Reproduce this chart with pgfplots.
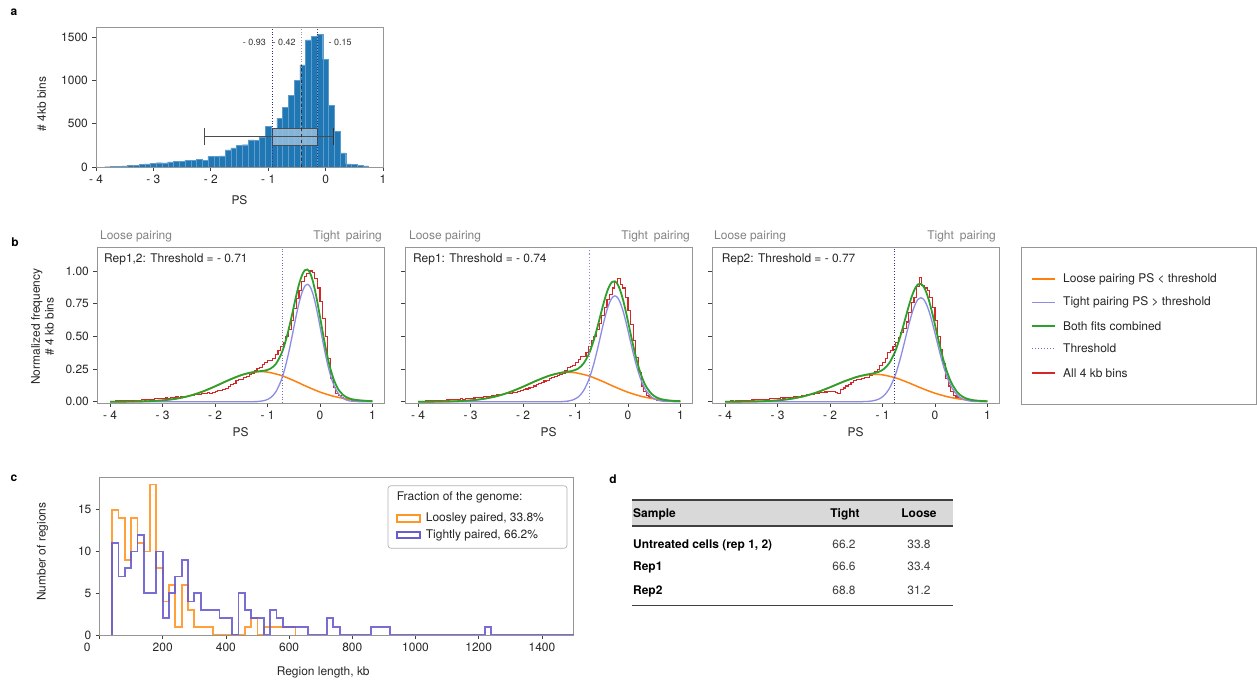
\documentclass[border=0pt]{standalone}
\usepackage{fontspec}
\setmainfont{TeX Gyre Heros}
\usepackage{pgfplots}
\pgfplotsset{compat=1.18}
\definecolor{barblue}{RGB}{31,119,180}
\definecolor{baredge}{RGB}{95,155,205}
\definecolor{boxfill}{RGB}{150,192,224}
\definecolor{myorange}{RGB}{255,127,14}
\definecolor{mylav}{RGB}{140,140,228}
\definecolor{mygreen}{RGB}{44,160,44}
\definecolor{myred}{RGB}{214,39,40}
\definecolor{cor}{RGB}{255,150,40}
\definecolor{cblue}{RGB}{105,92,208}
\definecolor{cbase}{RGB}{60,50,120}
\definecolor{navy}{RGB}{50,50,130}
\definecolor{thrcol}{RGB}{110,110,190}
\definecolor{txtgray}{RGB}{130,130,130}
\definecolor{axgray}{RGB}{150,150,150}
\pgfplotsset{
  base/.style={scale only axis, axis line style={axgray, line width=0.6bp},
    tick align=outside, major tick length=4bp, tick style={black!75, line width=0.6bp},
    xtick pos=left, ytick pos=left, scaled ticks=false,
    tick label style={font=\fontsize{12}{14}\selectfont, text=black!85},
    label style={font=\fontsize{12}{14}\selectfont, text=black!85}},
  bstyle/.style={base, width=287bp, height=156bp, xmin=-4.25, xmax=1.22, ymin=-0.01, ymax=1.184,
    xtick={-4,-3,-2,-1,0,1}, xticklabels={- 4,- 3,- 2,- 1,0,1}, ytick={0,0.25,0.5,0.75,1},
    xlabel={PS}, xlabel style={at={(axis description cs:0.5,-0.186)}, anchor=center}},
}
\begin{document}
\fontsize{12}{14}\selectfont
\begin{tikzpicture}
\path[use as bounding box] (0,0) rectangle (1257bp,683bp);

% ---------------- panel a ----------------
\begin{axis}[base, at={(96bp,516bp)}, anchor=south west, width=287bp, height=140bp,
  xmin=-4, xmax=1, ymin=0, ymax=1619,
  xtick={-4,-3,-2,-1,0,1}, xticklabels={- 4,- 3,- 2,- 1,0,1},
  ytick={0,500,1000,1500}, yticklabels={0,500,1000,1500},
  xlabel={PS}, ylabel={\# 4kb bins},
  xlabel style={at={(axis description cs:0.5,-0.236)}, anchor=center},
  ylabel style={at={(axis description cs:-0.189,0.45)}, anchor=center}]
\addplot[ybar interval, fill=barblue, draw=baredge, line width=0.3bp] coordinates {
(-3.85,3) (-3.75,5) (-3.65,8) (-3.55,12) (-3.45,16) (-3.35,22) (-3.25,28) (-3.15,35) (-3.05,45) (-2.95,50)
(-2.85,48) (-2.75,60) (-2.65,62) (-2.55,65) (-2.45,80) (-2.35,78) (-2.25,88) (-2.15,80) (-2.05,122) (-1.95,120)
(-1.85,130) (-1.75,198) (-1.65,222) (-1.55,250) (-1.45,258) (-1.35,315) (-1.25,310) (-1.15,340) (-1.05,470) (-0.95,445)
(-0.85,565) (-0.75,690) (-0.65,827) (-0.55,1000) (-0.45,1180) (-0.35,1470) (-0.25,1510) (-0.15,1535) (-0.05,1245) (0.05,710)
(0.15,412) (0.25,162) (0.35,35) (0.45,30) (0.55,18) (0.65,12) (0.75,0)};
\addplot[fill=boxfill, fill opacity=0.85, draw=black!70, line width=0.8bp] coordinates {(-0.93,250) (-0.15,250) (-0.15,450) (-0.93,450) (-0.93,250)};
\addplot[black!70, line width=0.8bp] coordinates {(-2.12,350) (0.13,350)};
\addplot[black!70, line width=0.8bp] coordinates {(-2.12,250) (-2.12,450)};
\addplot[black!80, line width=1bp] coordinates {(0.13,250) (0.13,450)};
\addplot[navy, dotted, line width=0.7bp] coordinates {(-0.93,0) (-0.93,1619)};
\addplot[black!40, dotted, line width=0.7bp] coordinates {(-0.42,0) (-0.42,1619)};
\addplot[black!80, dashed, line width=0.9bp] coordinates {(-0.42,0) (-0.42,1180)};
\addplot[navy, dotted, line width=0.7bp] coordinates {(-0.15,0) (-0.15,1619)};
\node[anchor=east, font=\fontsize{9}{10}\selectfont, text=black!80] at (axis cs:-0.97,1440) {- 0.93};
\node[anchor=east, font=\fontsize{9}{10}\selectfont, text=black!80] at (axis cs:-0.45,1440) {- 0.42};
\node[anchor=west, font=\fontsize{9}{10}\selectfont, text=black!80] at (axis cs:-0.02,1440) {- 0.15};
\draw[black!85, line width=0.8bp] (rel axis cs:0,0) -- (rel axis cs:1,0);
\end{axis}

% ---------------- panel b1 ----------------
\begin{axis}[bstyle, at={(97bp,280bp)}, anchor=south west,
  yticklabels={0.00,0.25,0.50,0.75,1.00},
  ylabel={Normalized frequency\\\# 4 kb bins},
  ylabel style={align=center, at={(axis description cs:-0.19,0.49)}, anchor=center}]
\addplot[myred, const plot, line width=1.1bp] coordinates {
(-4.00,0.004) (-3.95,0.003) (-3.90,0.005) (-3.85,0.006) (-3.80,0.005) (-3.75,0.008) (-3.70,0.007) (-3.65,0.009) (-3.60,0.008) (-3.55,0.011)
(-3.50,0.010) (-3.45,0.012) (-3.40,0.014) (-3.35,0.013) (-3.30,0.016) (-3.25,0.018) (-3.20,0.017) (-3.15,0.021) (-3.10,0.023) (-3.05,0.022)
(-3.00,0.026) (-2.95,0.028) (-2.90,0.027) (-2.85,0.032) (-2.80,0.034) (-2.75,0.036) (-2.70,0.035) (-2.65,0.040) (-2.60,0.043) (-2.55,0.041)
(-2.50,0.046) (-2.45,0.050) (-2.40,0.054) (-2.35,0.058) (-2.30,0.057) (-2.25,0.062) (-2.20,0.064) (-2.15,0.068) (-2.10,0.066) (-2.05,0.072)
(-2.00,0.078) (-1.95,0.083) (-1.90,0.088) (-1.85,0.092) (-1.80,0.100) (-1.75,0.118) (-1.70,0.135) (-1.65,0.142) (-1.60,0.160) (-1.55,0.168)
(-1.50,0.172) (-1.45,0.185) (-1.40,0.195) (-1.35,0.205) (-1.30,0.215) (-1.25,0.240) (-1.20,0.255) (-1.15,0.262) (-1.10,0.285) (-1.05,0.300)
(-1.00,0.318) (-0.95,0.315) (-0.90,0.330) (-0.85,0.360) (-0.80,0.395) (-0.75,0.420) (-0.70,0.450) (-0.65,0.500) (-0.60,0.550) (-0.55,0.620)
(-0.50,0.710) (-0.45,0.790) (-0.40,0.850) (-0.35,0.920) (-0.30,0.960) (-0.25,0.980) (-0.20,1.000) (-0.15,0.990) (-0.10,0.940) (-0.05,0.870)
(0.00,0.770) (0.05,0.640) (0.10,0.500) (0.15,0.330) (0.20,0.180) (0.25,0.110) (0.30,0.065) (0.35,0.045) (0.40,0.034) (0.45,0.025)
(0.50,0.019) (0.55,0.014) (0.60,0.010) (0.65,0.008) (0.70,0.006) (0.75,0.005) (0.80,0.003) (0.85,0.002) (0.90,0.002) (0.95,0.001) (1.00,0.001)};
\addplot[myorange, smooth, line width=1.5bp] coordinates {
(-4,0.0002) (-3.75,0.0005) (-3.5,0.0016) (-3.25,0.0042) (-3.0,0.0103) (-2.75,0.0223) (-2.5,0.0434) (-2.25,0.0754) (-2.0,0.1174) (-1.75,0.1634)
(-1.5,0.2036) (-1.25,0.2273) (-1.13,0.23) (-1.0,0.2266) (-0.75,0.2023) (-0.5,0.1617) (-0.25,0.1155) (0,0.0739) (0.25,0.0423) (0.5,0.0218) (0.75,0.010) (1.0,0.0041)};
\addplot[mylav, smooth, line width=1.3bp] coordinates {
(-4,0) (-1.5,0) (-1.24,0.001) (-1.14,0.0035) (-1.04,0.011) (-0.94,0.031) (-0.84,0.076) (-0.74,0.162) (-0.69,0.224) (-0.64,0.300)
(-0.59,0.388) (-0.54,0.484) (-0.49,0.585) (-0.44,0.683) (-0.39,0.770) (-0.34,0.838) (-0.29,0.883) (-0.24,0.898) (-0.19,0.881) (-0.14,0.832)
(-0.09,0.755) (-0.04,0.660) (0.01,0.555) (0.06,0.449) (0.11,0.350) (0.16,0.262) (0.21,0.189) (0.26,0.131) (0.31,0.088) (0.36,0.056)
(0.46,0.0207) (0.56,0.0066) (0.66,0.0018) (0.76,0.0004) (1,0)};
\addplot[mygreen, smooth, line width=1.8bp] coordinates {
(-4,0.0002) (-3.75,0.0005) (-3.5,0.0016) (-3.25,0.0042) (-3.0,0.0103) (-2.75,0.0223) (-2.5,0.0434) (-2.25,0.0754) (-2.0,0.1174) (-1.75,0.1634)
(-1.5,0.2036) (-1.35,0.2203) (-1.24,0.2285) (-1.14,0.2335) (-1.04,0.2393) (-0.94,0.2537) (-0.84,0.2894) (-0.74,0.3629) (-0.69,0.4177) (-0.64,0.4858)
(-0.59,0.5655) (-0.54,0.6528) (-0.49,0.7448) (-0.44,0.8337) (-0.39,0.9114) (-0.34,0.9701) (-0.29,1.0058) (-0.24,1.0118) (-0.19,0.9859) (-0.14,0.9282)
(-0.09,0.843) (-0.04,0.740) (0.01,0.6275) (0.06,0.5143) (0.11,0.4086) (0.16,0.3144) (0.21,0.2356) (0.26,0.1723) (0.31,0.1245) (0.36,0.088)
(0.46,0.045) (0.56,0.0248) (0.66,0.0151) (0.76,0.0100) (0.86,0.0070) (1.0,0.0041)};
\addplot[mylav!80!black, dotted, line width=0.8bp] coordinates {(-0.71,-0.01) (-0.71,1.184)};
\end{axis}

% ---------------- panel b2 ----------------
\begin{axis}[bstyle, at={(405bp,280bp)}, anchor=south west, yticklabels={}]
\addplot[myred, const plot, line width=1.1bp] coordinates {
(-4.00,0.003) (-3.95,0.004) (-3.90,0.004) (-3.85,0.006) (-3.80,0.007) (-3.75,0.006) (-3.70,0.008) (-3.65,0.010) (-3.60,0.009) (-3.55,0.012)
(-3.50,0.011) (-3.45,0.013) (-3.40,0.015) (-3.35,0.016) (-3.30,0.015) (-3.25,0.019) (-3.20,0.021) (-3.15,0.020) (-3.10,0.024) (-3.05,0.025)
(-3.00,0.024) (-2.95,0.028) (-2.90,0.031) (-2.85,0.030) (-2.80,0.035) (-2.75,0.037) (-2.70,0.036) (-2.65,0.042) (-2.60,0.045) (-2.55,0.047)
(-2.50,0.052) (-2.45,0.055) (-2.40,0.057) (-2.35,0.062) (-2.30,0.061) (-2.25,0.066) (-2.20,0.070) (-2.15,0.072) (-2.10,0.078) (-2.05,0.085)
(-2.00,0.090) (-1.95,0.097) (-1.90,0.105) (-1.85,0.112) (-1.80,0.120) (-1.75,0.132) (-1.70,0.140) (-1.65,0.150) (-1.60,0.158) (-1.55,0.165)
(-1.50,0.175) (-1.45,0.182) (-1.40,0.190) (-1.35,0.198) (-1.30,0.205) (-1.25,0.215) (-1.20,0.240) (-1.15,0.262) (-1.10,0.272) (-1.05,0.280)
(-1.00,0.300) (-0.95,0.320) (-0.90,0.345) (-0.85,0.345) (-0.80,0.378) (-0.75,0.420) (-0.70,0.470) (-0.65,0.500) (-0.60,0.550) (-0.55,0.600)
(-0.50,0.660) (-0.45,0.720) (-0.40,0.780) (-0.35,0.820) (-0.30,0.870) (-0.25,0.910) (-0.20,0.940) (-0.15,0.900) (-0.10,0.870) (-0.05,0.800)
(0.00,0.700) (0.05,0.590) (0.10,0.470) (0.15,0.340) (0.20,0.220) (0.25,0.120) (0.30,0.075) (0.35,0.050) (0.40,0.034) (0.45,0.024)
(0.50,0.017) (0.55,0.012) (0.60,0.009) (0.65,0.007) (0.70,0.005) (0.75,0.004) (0.80,0.003) (0.85,0.002) (0.90,0.001) (0.95,0.001) (1.00,0.001)};
\addplot[myorange, smooth, line width=1.5bp] coordinates {
(-4,0.0002) (-3.75,0.0005) (-3.5,0.0016) (-3.25,0.0041) (-3.0,0.0101) (-2.75,0.0218) (-2.5,0.0424) (-2.25,0.0737) (-2.0,0.1148) (-1.75,0.1598)
(-1.5,0.1991) (-1.25,0.2223) (-1.13,0.225) (-1.0,0.2216) (-0.75,0.1978) (-0.5,0.1581) (-0.25,0.113) (0,0.0723) (0.25,0.0414) (0.5,0.0212) (0.75,0.0097) (1.0,0.004)};
\addplot[mylav, smooth, line width=1.3bp] coordinates {
(-4,0) (-1.5,0) (-1.25,0.0014) (-1.15,0.0046) (-1.05,0.0137) (-0.95,0.0356) (-0.85,0.0816) (-0.75,0.1645) (-0.70,0.223) (-0.65,0.292)
(-0.60,0.371) (-0.55,0.456) (-0.50,0.544) (-0.45,0.628) (-0.40,0.702) (-0.35,0.760) (-0.30,0.797) (-0.25,0.81) (-0.20,0.797) (-0.15,0.760)
(-0.10,0.702) (-0.05,0.628) (0,0.544) (0.05,0.456) (0.10,0.371) (0.15,0.292) (0.20,0.223) (0.25,0.1645) (0.30,0.1177) (0.35,0.0816)
(0.45,0.0356) (0.55,0.0137) (0.65,0.0046) (0.75,0.0014) (1,0)};
\addplot[mygreen, smooth, line width=1.8bp] coordinates {
(-4,0.0002) (-3.75,0.0005) (-3.5,0.0016) (-3.25,0.0041) (-3.0,0.0101) (-2.75,0.0218) (-2.5,0.0424) (-2.25,0.0737) (-2.0,0.1148) (-1.75,0.1598)
(-1.5,0.1991) (-1.35,0.2155) (-1.25,0.2239) (-1.15,0.2296) (-1.05,0.237) (-0.95,0.2534) (-0.85,0.2903) (-0.75,0.361) (-0.70,0.4124) (-0.65,0.4737)
(-0.60,0.5446) (-0.55,0.6211) (-0.50,0.7003) (-0.45,0.7754) (-0.40,0.8403) (-0.35,0.8892) (-0.30,0.9171) (-0.25,0.9213) (-0.20,0.8996) (-0.15,0.8541)
(-0.10,0.7881) (-0.05,0.7062) (0,0.6149) (0.05,0.5199) (0.10,0.4283) (0.15,0.3432) (0.20,0.2686) (0.25,0.2049) (0.30,0.1533) (0.35,0.1129)
(0.45,0.0594) (0.55,0.0315) (0.65,0.0176) (0.75,0.0108) (0.85,0.0068) (1.0,0.004)};
\addplot[mylav, dotted, line width=1.1bp] coordinates {(-0.74,-0.01) (-0.74,1.184)};
\end{axis}

% ---------------- panel b3 ----------------
\begin{axis}[bstyle, at={(712bp,280bp)}, anchor=south west, yticklabels={}]
\addplot[myred, const plot, line width=1.1bp] coordinates {
(-4.00,0.003) (-3.95,0.004) (-3.90,0.005) (-3.85,0.004) (-3.80,0.006) (-3.75,0.007) (-3.70,0.008) (-3.65,0.009) (-3.60,0.011) (-3.55,0.010)
(-3.50,0.013) (-3.45,0.015) (-3.40,0.014) (-3.35,0.017) (-3.30,0.018) (-3.25,0.020) (-3.20,0.019) (-3.15,0.022) (-3.10,0.025) (-3.05,0.024)
(-3.00,0.027) (-2.95,0.029) (-2.90,0.028) (-2.85,0.032) (-2.80,0.035) (-2.75,0.034) (-2.70,0.038) (-2.65,0.041) (-2.60,0.043) (-2.55,0.046)
(-2.50,0.048) (-2.45,0.052) (-2.40,0.055) (-2.35,0.058) (-2.30,0.062) (-2.25,0.065) (-2.20,0.068) (-2.15,0.070) (-2.10,0.074) (-2.05,0.078)
(-2.00,0.080) (-1.95,0.076) (-1.90,0.070) (-1.85,0.066) (-1.80,0.090) (-1.75,0.105) (-1.70,0.120) (-1.65,0.135) (-1.60,0.150) (-1.55,0.160)
(-1.50,0.168) (-1.45,0.172) (-1.40,0.180) (-1.35,0.188) (-1.30,0.182) (-1.25,0.200) (-1.20,0.215) (-1.15,0.228) (-1.10,0.245) (-1.05,0.275)
(-1.00,0.300) (-0.95,0.330) (-0.90,0.375) (-0.85,0.395) (-0.80,0.420) (-0.75,0.450) (-0.70,0.490) (-0.65,0.530) (-0.60,0.560) (-0.55,0.610)
(-0.50,0.680) (-0.45,0.760) (-0.40,0.800) (-0.35,0.880) (-0.30,0.950) (-0.25,0.890) (-0.20,0.870) (-0.15,0.850) (-0.10,0.800) (-0.05,0.720)
(0.00,0.620) (0.05,0.500) (0.10,0.400) (0.15,0.290) (0.20,0.180) (0.25,0.120) (0.30,0.075) (0.35,0.050) (0.40,0.036) (0.45,0.026)
(0.50,0.019) (0.55,0.015) (0.60,0.011) (0.65,0.009) (0.70,0.007) (0.75,0.010) (0.80,0.005) (0.85,0.003) (0.90,0.002) (0.95,0.001) (1.00,0.001)};
\addplot[myorange, smooth, line width=1.5bp] coordinates {
(-4,0.0002) (-3.75,0.0005) (-3.5,0.0016) (-3.25,0.0042) (-3.0,0.010) (-2.75,0.0216) (-2.5,0.0416) (-2.25,0.0716) (-2.0,0.1105) (-1.75,0.1525)
(-1.5,0.1883) (-1.25,0.2081) (-1.15,0.21) (-1.0,0.2058) (-0.75,0.1822) (-0.5,0.1443) (-0.25,0.1022) (0,0.0648) (0.25,0.0368) (0.5,0.0187) (0.75,0.0085) (1.0,0.0034)};
\addplot[mylav, smooth, line width=1.3bp] coordinates {
(-4,0) (-1.6,0) (-1.37,0.0008) (-1.27,0.0025) (-1.17,0.0076) (-1.07,0.0201) (-0.97,0.0476) (-0.87,0.1005) (-0.77,0.1892) (-0.72,0.2486)
(-0.67,0.3174) (-0.62,0.3937) (-0.57,0.4746) (-0.52,0.5558) (-0.47,0.6325) (-0.42,0.6995) (-0.37,0.7515) (-0.32,0.785) (-0.27,0.796) (-0.22,0.785)
(-0.17,0.7515) (-0.12,0.6995) (-0.07,0.6325) (-0.02,0.5558) (0.03,0.4746) (0.08,0.3937) (0.13,0.3174) (0.18,0.2486) (0.23,0.1892) (0.28,0.140)
(0.33,0.1005) (0.43,0.0476) (0.53,0.0201) (0.63,0.0076) (0.73,0.0025) (0.83,0.0008) (1,0)};
\addplot[mygreen, smooth, line width=1.8bp] coordinates {
(-4,0.0002) (-3.75,0.0005) (-3.5,0.0016) (-3.25,0.0042) (-3.0,0.010) (-2.75,0.0216) (-2.5,0.0416) (-2.25,0.0716) (-2.0,0.1105) (-1.75,0.1525)
(-1.5,0.1883) (-1.37,0.202) (-1.27,0.2098) (-1.17,0.2176) (-1.07,0.2289) (-0.97,0.2516) (-0.87,0.2964) (-0.77,0.3739) (-0.72,0.4268) (-0.67,0.4885)
(-0.62,0.5573) (-0.57,0.6303) (-0.52,0.7034) (-0.47,0.7717) (-0.42,0.8303) (-0.37,0.8738) (-0.32,0.8988) (-0.27,0.9015) (-0.22,0.8824) (-0.17,0.8409)
(-0.12,0.7813) (-0.07,0.707) (-0.02,0.6233) (0.03,0.5355) (0.08,0.4484) (0.13,0.3664) (0.18,0.2922) (0.23,0.2278) (0.28,0.1743) (0.33,0.1305)
(0.43,0.0704) (0.53,0.0372) (0.63,0.0202) (0.73,0.0116) (0.83,0.0072) (1.0,0.0034)};
\addplot[navy, dotted, line width=0.8bp] coordinates {(-0.77,-0.01) (-0.77,1.184)};
\end{axis}

% ---------------- panel c ----------------
\begin{axis}[base, at={(99.5bp,48bp)}, anchor=south west, width=474bp, height=158bp,
  xmin=0, xmax=1500, ymin=0, ymax=18.9,
  xtick={0,200,400,600,800,1000,1200,1400},
  xticklabels={\hbox to 0pt{\hss 0\hspace{9bp}},200,400,600,800,1000,1200,1400},
  ytick={0,5,10,15}, yticklabels={0,5,10,15},
  xlabel={Region length, kb}, ylabel={Number of regions},
  xlabel style={at={(axis description cs:0.472,-0.24)}, anchor=center},
  ylabel style={at={(axis description cs:-0.12,0.527)}, anchor=center}]
\addplot[cor, const plot, line width=1.8bp, opacity=0.9] coordinates {
(40,0) (40,15) (60,14) (80,9) (100,14) (120,11) (140,10) (160,18) (180,8) (200,4) (220,6) (240,1) (260,6) (280,3)
(300,1) (360,0) (460,1) (480,2) (500,0) (520,1) (620,0) (620,0)};
\addplot[cblue, const plot, line width=1.8bp, opacity=0.9] coordinates {
(40,0) (40,11) (60,7) (80,8) (100,10) (120,12) (140,5) (180,10) (200,2) (220,5) (240,7) (260,9) (280,4) (300,5)
(320,3) (380,2) (420,0) (440,5) (460,3) (480,2) (520,0) (540,3) (560,2) (580,1) (660,0) (720,2) (740,1) (760,0)
(860,1) (920,0) (1220,1) (1240,0) (1500,0)};
\draw[cbase, line width=0.9bp] (rel axis cs:0,0) -- (rel axis cs:1,0);
\end{axis}

% ---------------- texts & decorations ----------------
\node[font=\bfseries\fontsize{12}{14}\selectfont] at (14bp,671bp) {a};
\node[font=\bfseries\fontsize{12}{14}\selectfont] at (15bp,441bp) {b};
\node[font=\bfseries\fontsize{12}{14}\selectfont] at (14bp,205bp) {c};
\node[font=\bfseries\fontsize{12}{14}\selectfont] at (613bp,204bp) {d};

\foreach \xl/\xr in {100/382, 409/690, 714/996}{
  \node[anchor=base west, text=txtgray, inner sep=0] at (\xl bp,443bp) {Loose pairing};
  \node[anchor=base east, text=txtgray, inner sep=0] at (\xr bp,443bp) {Tight\hspace{0.5em}pairing};
}
\node[anchor=base west, inner sep=0, text=black!85] at (104bp,420.7bp) {Rep1,2: Threshold = - 0.71};
\node[anchor=base west, inner sep=0, text=black!85] at (413bp,420bp) {Rep1: Threshold = - 0.74};
\node[anchor=base west, inner sep=0, text=black!85] at (721.7bp,420bp) {Rep2: Threshold = - 0.77};

% legend b
\draw[axgray, line width=0.7bp] (1021.7bp,279bp) rectangle (1256.3bp,435.3bp);
\fill[myorange] (1031.7bp,402.5bp) rectangle (1055bp,404.5bp);
\fill[mylav] (1031.7bp,379.5bp) rectangle (1055bp,381.3bp);
\fill[mygreen] (1031.7bp,356.2bp) rectangle (1055bp,358.2bp);
\foreach \k in {0,...,7}{
  \fill[thrcol] ({1031.7bp+3bp*\k},334bp) rectangle ({1032.9bp+3bp*\k},335.2bp);
}
\fill[myred] (1031.7bp,308.7bp) rectangle (1055bp,310.6bp);
\node[anchor=west, inner sep=0, text=black!85] at (1063bp,403.7bp) {Loose pairing PS < threshold};
\node[anchor=west, inner sep=0, text=black!85] at (1063bp,380.3bp) {Tight pairing PS > threshold};
\node[anchor=west, inner sep=0, text=black!85] at (1063bp,357bp) {Both fits combined};
\node[anchor=west, inner sep=0, text=black!85] at (1063bp,334.7bp) {Threshold};
\node[anchor=west, inner sep=0, text=black!85] at (1063bp,309.7bp) {All 4 kb bins};

% legend c
\draw[black!30, fill=white, rounded corners=3bp, line width=0.7bp] (388bp,134.7bp) rectangle (567bp,197.3bp);
\node[anchor=west, inner sep=0, text=black!85] at (396.6bp,185.7bp) {Fraction of the genome:};
\draw[cor, line width=1.8bp] (396.6bp,161.3bp) rectangle (420bp,168bp);
\draw[cblue, line width=1.8bp] (396.6bp,144.7bp) rectangle (420bp,151.3bp);
\node[anchor=west, inner sep=0, text=black!85] at (425.7bp,164.7bp) {Loosley paired, 33.8\%};
\node[anchor=west, inner sep=0, text=black!85] at (425.7bp,148bp) {Tightly paired, 66.2\%};

% table d
\fill[black!15] (632bp,157bp) rectangle (953bp,183bp);
\draw[black!75, line width=1.3bp] (632bp,183bp) -- (953bp,183bp);
\draw[black!75, line width=1.3bp] (632bp,157bp) -- (953bp,157bp);
\draw[black!75, line width=1.3bp] (632bp,77.3bp) -- (953bp,77.3bp);
\node[anchor=base west, inner sep=0, font=\bfseries] at (633bp,165.5bp) {Sample};
\node[anchor=base, inner sep=0, font=\bfseries] at (845bp,165.5bp) {Tight};
\node[anchor=base, inner sep=0, font=\bfseries] at (919bp,165.5bp) {Loose};
\node[anchor=base west, inner sep=0, font=\bfseries] at (633bp,134bp) {Untreated cells (rep 1, 2)};
\node[anchor=base west, inner sep=0, font=\bfseries] at (633bp,112bp) {Rep1};
\node[anchor=base west, inner sep=0, font=\bfseries] at (633bp,88.5bp) {Rep2};
\node[anchor=base, inner sep=0, text=black!75] at (844bp,134bp) {66.2};
\node[anchor=base, inner sep=0, text=black!75] at (919bp,134bp) {33.8};
\node[anchor=base, inner sep=0, text=black!75] at (844bp,112bp) {66.6};
\node[anchor=base, inner sep=0, text=black!75] at (919bp,112bp) {33.4};
\node[anchor=base, inner sep=0, text=black!75] at (844bp,88.5bp) {68.8};
\node[anchor=base, inner sep=0, text=black!75] at (919bp,88.5bp) {31.2};
\end{tikzpicture}
\end{document}
